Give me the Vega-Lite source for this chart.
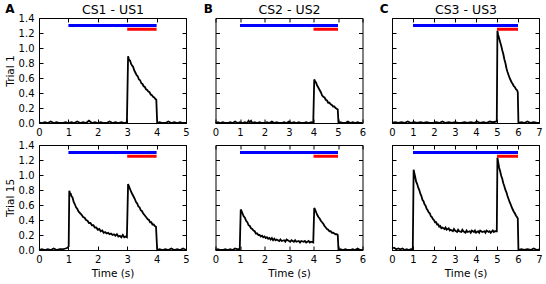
{
"$schema": "https://vega.github.io/schema/vega-lite/v6.json",
"padding": {"left": 4, "top": 1, "right": 2, "bottom": 2},
"datasets": {
"A1": [{"t":0,"v":0.01},{"t":0.1,"v":0.0},{"t":0.2,"v":0.01},{"t":0.3,"v":0.0},{"t":0.4,"v":0.02},{"t":0.5,"v":0.0},{"t":0.6,"v":0.01},{"t":0.7,"v":0.0},{"t":0.8,"v":0.0},{"t":0.9,"v":0.01},{"t":1.0,"v":0.0},{"t":1.1,"v":0.01},{"t":1.2,"v":0.0},{"t":1.3,"v":0.02},{"t":1.4,"v":0.0},{"t":1.5,"v":0.01},{"t":1.6,"v":0.0},{"t":1.7,"v":0.03},{"t":1.8,"v":0.0},{"t":1.9,"v":0.01},{"t":2.0,"v":0.0},{"t":2.1,"v":0.01},{"t":2.2,"v":0.0},{"t":2.3,"v":0.0},{"t":2.4,"v":0.02},{"t":2.5,"v":0.0},{"t":2.6,"v":0.01},{"t":2.7,"v":0.0},{"t":2.8,"v":0.01},{"t":2.9,"v":0.0},{"t":2.99,"v":0.01},{"t":3.03,"v":0.89},{"t":3.05,"v":0.86},{"t":3.07,"v":0.84},{"t":3.1,"v":0.83},{"t":3.13,"v":0.79},{"t":3.16,"v":0.77},{"t":3.2,"v":0.75},{"t":3.24,"v":0.70},{"t":3.28,"v":0.67},{"t":3.32,"v":0.64},{"t":3.36,"v":0.62},{"t":3.4,"v":0.58},{"t":3.44,"v":0.57},{"t":3.48,"v":0.53},{"t":3.52,"v":0.52},{"t":3.56,"v":0.49},{"t":3.6,"v":0.48},{"t":3.64,"v":0.45},{"t":3.68,"v":0.44},{"t":3.72,"v":0.42},{"t":3.76,"v":0.41},{"t":3.8,"v":0.38},{"t":3.84,"v":0.37},{"t":3.88,"v":0.35},{"t":3.92,"v":0.34},{"t":3.96,"v":0.32},{"t":3.99,"v":0.31},{"t":4.02,"v":0.0},{"t":4.1,"v":0.01},{"t":4.2,"v":0.0},{"t":4.3,"v":0.0},{"t":4.4,"v":0.02},{"t":4.5,"v":0.0},{"t":4.6,"v":0.01},{"t":4.7,"v":0.0},{"t":4.8,"v":0.01},{"t":4.9,"v":0.0},{"t":5.0,"v":0.0}],
"A2": [{"t":0,"v":0.0},{"t":0.1,"v":0.01},{"t":0.2,"v":0.0},{"t":0.3,"v":0.01},{"t":0.4,"v":0.0},{"t":0.5,"v":0.02},{"t":0.6,"v":0.0},{"t":0.7,"v":0.01},{"t":0.8,"v":0.01},{"t":0.9,"v":0.02},{"t":0.97,"v":0.03},{"t":1.01,"v":0.05},{"t":1.03,"v":0.79},{"t":1.05,"v":0.76},{"t":1.08,"v":0.75},{"t":1.1,"v":0.72},{"t":1.14,"v":0.70},{"t":1.18,"v":0.64},{"t":1.22,"v":0.61},{"t":1.26,"v":0.57},{"t":1.3,"v":0.55},{"t":1.35,"v":0.51},{"t":1.4,"v":0.49},{"t":1.45,"v":0.47},{"t":1.5,"v":0.44},{"t":1.55,"v":0.43},{"t":1.6,"v":0.40},{"t":1.65,"v":0.39},{"t":1.7,"v":0.36},{"t":1.75,"v":0.36},{"t":1.8,"v":0.33},{"t":1.85,"v":0.33},{"t":1.9,"v":0.30},{"t":1.95,"v":0.30},{"t":2.0,"v":0.27},{"t":2.05,"v":0.28},{"t":2.1,"v":0.25},{"t":2.15,"v":0.26},{"t":2.2,"v":0.23},{"t":2.25,"v":0.24},{"t":2.3,"v":0.22},{"t":2.35,"v":0.23},{"t":2.4,"v":0.21},{"t":2.45,"v":0.22},{"t":2.5,"v":0.20},{"t":2.55,"v":0.21},{"t":2.6,"v":0.19},{"t":2.65,"v":0.21},{"t":2.7,"v":0.18},{"t":2.75,"v":0.19},{"t":2.8,"v":0.17},{"t":2.85,"v":0.20},{"t":2.9,"v":0.17},{"t":2.95,"v":0.18},{"t":2.99,"v":0.17},{"t":3.03,"v":0.88},{"t":3.05,"v":0.86},{"t":3.08,"v":0.83},{"t":3.1,"v":0.81},{"t":3.14,"v":0.77},{"t":3.18,"v":0.74},{"t":3.22,"v":0.71},{"t":3.26,"v":0.68},{"t":3.3,"v":0.64},{"t":3.34,"v":0.62},{"t":3.38,"v":0.58},{"t":3.42,"v":0.57},{"t":3.46,"v":0.53},{"t":3.5,"v":0.52},{"t":3.54,"v":0.49},{"t":3.58,"v":0.47},{"t":3.62,"v":0.45},{"t":3.66,"v":0.43},{"t":3.7,"v":0.41},{"t":3.74,"v":0.40},{"t":3.78,"v":0.37},{"t":3.82,"v":0.37},{"t":3.86,"v":0.34},{"t":3.9,"v":0.34},{"t":3.94,"v":0.32},{"t":3.98,"v":0.31},{"t":4.02,"v":0.0},{"t":4.1,"v":0.01},{"t":4.2,"v":0.0},{"t":4.3,"v":0.01},{"t":4.4,"v":0.0},{"t":4.5,"v":0.02},{"t":4.6,"v":0.0},{"t":4.7,"v":0.01},{"t":4.8,"v":0.0},{"t":4.9,"v":0.02},{"t":5.0,"v":0.0}],
"B1": [{"t":0,"v":0.0},{"t":0.1,"v":0.01},{"t":0.2,"v":0.0},{"t":0.3,"v":0.01},{"t":0.4,"v":0.0},{"t":0.5,"v":0.0},{"t":0.6,"v":0.01},{"t":0.7,"v":0.0},{"t":0.8,"v":0.02},{"t":0.9,"v":0.0},{"t":1.0,"v":0.01},{"t":1.1,"v":0.0},{"t":1.2,"v":0.01},{"t":1.3,"v":0.0},{"t":1.35,"v":0.03},{"t":1.4,"v":0.01},{"t":1.45,"v":0.03},{"t":1.5,"v":0.0},{"t":1.6,"v":0.01},{"t":1.7,"v":0.0},{"t":1.8,"v":0.01},{"t":1.9,"v":0.0},{"t":2.0,"v":0.0},{"t":2.1,"v":0.01},{"t":2.2,"v":0.0},{"t":2.3,"v":0.02},{"t":2.4,"v":0.0},{"t":2.5,"v":0.01},{"t":2.6,"v":0.0},{"t":2.7,"v":0.0},{"t":2.8,"v":0.01},{"t":2.9,"v":0.0},{"t":3.0,"v":0.02},{"t":3.1,"v":0.0},{"t":3.2,"v":0.01},{"t":3.3,"v":0.0},{"t":3.4,"v":0.01},{"t":3.5,"v":0.0},{"t":3.6,"v":0.0},{"t":3.7,"v":0.01},{"t":3.8,"v":0.0},{"t":3.9,"v":0.01},{"t":3.99,"v":0.0},{"t":4.03,"v":0.58},{"t":4.06,"v":0.56},{"t":4.1,"v":0.54},{"t":4.15,"v":0.50},{"t":4.2,"v":0.47},{"t":4.25,"v":0.44},{"t":4.3,"v":0.41},{"t":4.35,"v":0.37},{"t":4.4,"v":0.35},{"t":4.45,"v":0.34},{"t":4.5,"v":0.31},{"t":4.55,"v":0.30},{"t":4.6,"v":0.27},{"t":4.65,"v":0.27},{"t":4.7,"v":0.25},{"t":4.75,"v":0.24},{"t":4.8,"v":0.22},{"t":4.85,"v":0.22},{"t":4.9,"v":0.20},{"t":4.95,"v":0.19},{"t":4.99,"v":0.18},{"t":5.02,"v":0.0},{"t":5.1,"v":0.01},{"t":5.2,"v":0.0},{"t":5.3,"v":0.0},{"t":5.4,"v":0.02},{"t":5.5,"v":0.0},{"t":5.6,"v":0.01},{"t":5.7,"v":0.0},{"t":5.8,"v":0.01},{"t":5.9,"v":0.0},{"t":6.0,"v":0.0}],
"B2": [{"t":0,"v":0.0},{"t":0.1,"v":0.01},{"t":0.2,"v":0.0},{"t":0.3,"v":0.0},{"t":0.4,"v":0.01},{"t":0.5,"v":0.0},{"t":0.6,"v":0.01},{"t":0.7,"v":0.0},{"t":0.8,"v":0.02},{"t":0.9,"v":0.01},{"t":0.99,"v":0.01},{"t":1.03,"v":0.54},{"t":1.06,"v":0.52},{"t":1.1,"v":0.49},{"t":1.15,"v":0.45},{"t":1.2,"v":0.43},{"t":1.25,"v":0.39},{"t":1.3,"v":0.37},{"t":1.35,"v":0.33},{"t":1.4,"v":0.32},{"t":1.45,"v":0.29},{"t":1.5,"v":0.28},{"t":1.55,"v":0.26},{"t":1.6,"v":0.25},{"t":1.65,"v":0.22},{"t":1.7,"v":0.22},{"t":1.75,"v":0.20},{"t":1.8,"v":0.20},{"t":1.85,"v":0.18},{"t":1.9,"v":0.19},{"t":1.95,"v":0.17},{"t":2.0,"v":0.18},{"t":2.05,"v":0.16},{"t":2.1,"v":0.17},{"t":2.15,"v":0.15},{"t":2.2,"v":0.16},{"t":2.25,"v":0.14},{"t":2.3,"v":0.16},{"t":2.35,"v":0.13},{"t":2.4,"v":0.15},{"t":2.45,"v":0.13},{"t":2.5,"v":0.14},{"t":2.6,"v":0.12},{"t":2.65,"v":0.14},{"t":2.7,"v":0.12},{"t":2.8,"v":0.13},{"t":2.85,"v":0.11},{"t":2.9,"v":0.14},{"t":3.0,"v":0.12},{"t":3.05,"v":0.11},{"t":3.1,"v":0.13},{"t":3.2,"v":0.11},{"t":3.25,"v":0.13},{"t":3.3,"v":0.11},{"t":3.4,"v":0.12},{"t":3.45,"v":0.10},{"t":3.5,"v":0.12},{"t":3.6,"v":0.11},{"t":3.65,"v":0.12},{"t":3.7,"v":0.10},{"t":3.8,"v":0.12},{"t":3.85,"v":0.10},{"t":3.9,"v":0.11},{"t":3.99,"v":0.10},{"t":4.03,"v":0.56},{"t":4.06,"v":0.54},{"t":4.1,"v":0.51},{"t":4.15,"v":0.47},{"t":4.2,"v":0.44},{"t":4.25,"v":0.42},{"t":4.3,"v":0.39},{"t":4.35,"v":0.37},{"t":4.4,"v":0.35},{"t":4.45,"v":0.32},{"t":4.5,"v":0.30},{"t":4.55,"v":0.28},{"t":4.6,"v":0.27},{"t":4.65,"v":0.25},{"t":4.7,"v":0.25},{"t":4.75,"v":0.23},{"t":4.8,"v":0.23},{"t":4.85,"v":0.22},{"t":4.9,"v":0.21},{"t":4.95,"v":0.21},{"t":4.99,"v":0.20},{"t":5.02,"v":0.0},{"t":5.1,"v":0.01},{"t":5.2,"v":0.0},{"t":5.3,"v":0.01},{"t":5.4,"v":0.0},{"t":5.5,"v":0.0},{"t":5.6,"v":0.01},{"t":5.7,"v":0.0},{"t":5.8,"v":0.02},{"t":5.9,"v":0.0},{"t":6.0,"v":0.0}],
"C1": [{"t":0,"v":0.0},{"t":0.15,"v":0.01},{"t":0.3,"v":0.0},{"t":0.45,"v":0.01},{"t":0.6,"v":0.0},{"t":0.75,"v":0.02},{"t":0.9,"v":0.0},{"t":1.05,"v":0.01},{"t":1.2,"v":0.0},{"t":1.35,"v":0.01},{"t":1.5,"v":0.0},{"t":1.65,"v":0.01},{"t":1.8,"v":0.0},{"t":1.95,"v":0.0},{"t":2.1,"v":0.01},{"t":2.25,"v":0.0},{"t":2.4,"v":0.02},{"t":2.55,"v":0.0},{"t":2.7,"v":0.01},{"t":2.85,"v":0.0},{"t":3.0,"v":0.01},{"t":3.15,"v":0.0},{"t":3.3,"v":0.0},{"t":3.45,"v":0.01},{"t":3.6,"v":0.0},{"t":3.75,"v":0.01},{"t":3.9,"v":0.0},{"t":4.05,"v":0.02},{"t":4.2,"v":0.0},{"t":4.35,"v":0.01},{"t":4.5,"v":0.0},{"t":4.65,"v":0.02},{"t":4.8,"v":0.01},{"t":4.99,"v":0.02},{"t":5.02,"v":1.23},{"t":5.05,"v":1.18},{"t":5.1,"v":1.13},{"t":5.15,"v":1.08},{"t":5.2,"v":1.03},{"t":5.25,"v":0.97},{"t":5.3,"v":0.92},{"t":5.35,"v":0.85},{"t":5.4,"v":0.80},{"t":5.45,"v":0.73},{"t":5.5,"v":0.68},{"t":5.55,"v":0.64},{"t":5.6,"v":0.60},{"t":5.65,"v":0.57},{"t":5.7,"v":0.54},{"t":5.75,"v":0.52},{"t":5.8,"v":0.49},{"t":5.85,"v":0.48},{"t":5.9,"v":0.45},{"t":5.95,"v":0.44},{"t":5.99,"v":0.41},{"t":6.02,"v":0.0},{"t":6.15,"v":0.01},{"t":6.3,"v":0.0},{"t":6.45,"v":0.02},{"t":6.6,"v":0.0},{"t":6.75,"v":0.01},{"t":6.9,"v":0.0},{"t":7.0,"v":0.0}],
"C2": [{"t":0,"v":0.02},{"t":0.1,"v":0.03},{"t":0.2,"v":0.01},{"t":0.3,"v":0.02},{"t":0.4,"v":0.01},{"t":0.5,"v":0.02},{"t":0.6,"v":0.0},{"t":0.7,"v":0.01},{"t":0.8,"v":0.0},{"t":0.9,"v":0.01},{"t":0.99,"v":0.01},{"t":1.03,"v":1.07},{"t":1.06,"v":1.03},{"t":1.1,"v":0.98},{"t":1.15,"v":0.91},{"t":1.2,"v":0.88},{"t":1.25,"v":0.83},{"t":1.3,"v":0.80},{"t":1.35,"v":0.75},{"t":1.4,"v":0.72},{"t":1.45,"v":0.67},{"t":1.5,"v":0.65},{"t":1.55,"v":0.61},{"t":1.6,"v":0.59},{"t":1.65,"v":0.55},{"t":1.7,"v":0.53},{"t":1.75,"v":0.50},{"t":1.8,"v":0.49},{"t":1.85,"v":0.45},{"t":1.9,"v":0.44},{"t":1.95,"v":0.41},{"t":2.0,"v":0.40},{"t":2.05,"v":0.37},{"t":2.1,"v":0.37},{"t":2.15,"v":0.34},{"t":2.2,"v":0.34},{"t":2.25,"v":0.31},{"t":2.3,"v":0.32},{"t":2.35,"v":0.29},{"t":2.4,"v":0.30},{"t":2.5,"v":0.28},{"t":2.55,"v":0.30},{"t":2.6,"v":0.27},{"t":2.7,"v":0.29},{"t":2.75,"v":0.26},{"t":2.8,"v":0.27},{"t":2.9,"v":0.25},{"t":2.95,"v":0.28},{"t":3.0,"v":0.26},{"t":3.1,"v":0.24},{"t":3.15,"v":0.27},{"t":3.2,"v":0.25},{"t":3.3,"v":0.24},{"t":3.35,"v":0.27},{"t":3.4,"v":0.25},{"t":3.5,"v":0.23},{"t":3.55,"v":0.26},{"t":3.6,"v":0.24},{"t":3.7,"v":0.25},{"t":3.75,"v":0.23},{"t":3.8,"v":0.26},{"t":3.9,"v":0.24},{"t":3.95,"v":0.26},{"t":4.0,"v":0.23},{"t":4.1,"v":0.25},{"t":4.15,"v":0.23},{"t":4.2,"v":0.26},{"t":4.3,"v":0.24},{"t":4.4,"v":0.25},{"t":4.45,"v":0.23},{"t":4.5,"v":0.26},{"t":4.6,"v":0.24},{"t":4.65,"v":0.25},{"t":4.7,"v":0.23},{"t":4.8,"v":0.26},{"t":4.85,"v":0.24},{"t":4.9,"v":0.25},{"t":4.99,"v":0.25},{"t":5.02,"v":1.23},{"t":5.05,"v":1.18},{"t":5.1,"v":1.10},{"t":5.15,"v":1.05},{"t":5.2,"v":0.99},{"t":5.25,"v":0.95},{"t":5.3,"v":0.89},{"t":5.35,"v":0.85},{"t":5.4,"v":0.80},{"t":5.45,"v":0.77},{"t":5.5,"v":0.72},{"t":5.55,"v":0.68},{"t":5.6,"v":0.64},{"t":5.65,"v":0.61},{"t":5.7,"v":0.57},{"t":5.75,"v":0.54},{"t":5.8,"v":0.51},{"t":5.85,"v":0.49},{"t":5.9,"v":0.46},{"t":5.95,"v":0.44},{"t":5.99,"v":0.42},{"t":6.02,"v":0.0},{"t":6.15,"v":0.01},{"t":6.3,"v":0.0},{"t":6.45,"v":0.01},{"t":6.6,"v":0.0},{"t":6.75,"v":0.02},{"t":6.9,"v":0.0},{"t":7.0,"v":0.01}],
"bars": [{"p":"A","stim":"CS","start":1,"end":4,"level":1.3},{"p":"A","stim":"US","start":3,"end":4,"level":1.25},{"p":"B","stim":"CS","start":1,"end":5,"level":1.3},{"p":"B","stim":"US","start":4,"end":5,"level":1.25},{"p":"C","stim":"CS","start":1,"end":6,"level":1.3},{"p":"C","stim":"US","start":5,"end":6,"level":1.25}]
},
"columns": 3,
"bounds": "flush",
"spacing": {"row": 22, "column": 29.5},
"concat": [
{"width":147,"height":105,"layer":[
 {"data":{"name":"A1"},"mark":{"type":"line","color":"black","strokeWidth":1.8},
  "encoding":{"x":{"field":"t","type":"quantitative","scale":{"domain":[0,5],"nice":false},"axis":{"orient":"bottom","values":[0,1,2,3,4,5],"title":null}},
   "y":{"field":"v","type":"quantitative","scale":{"domain":[0,1.4],"nice":false},"axis":{"orient":"left","values":[0,0.2,0.4,0.6,0.8,1.0,1.2,1.4],"format":".1f","title":"Trial 1"}}}},
 {"data":{"name":"bars"},"transform":[{"filter":"datum.p === 'A'"}],"mark":{"type":"rule","strokeWidth":3},
  "encoding":{"x":{"field":"start","type":"quantitative","scale":{"domain":[0,5],"nice":false},"axis":{"orient":"top","values":[0,1,2,3,4,5],"labels":false,"title":"CS1 - US1","titleFontSize":12.5,"titleY":-5,"titleBaseline":"alphabetic"}},
   "x2":{"field":"end"},
   "y":{"field":"level","type":"quantitative","scale":{"domain":[0,1.4],"nice":false},"axis":{"orient":"right","values":[0,0.2,0.4,0.6,0.8,1.0,1.2,1.4],"labels":false,"title":"A","titleAngle":0,"titleX":-172,"titleY":-6,"titleAlign":"right","titleBaseline":"alphabetic","titleFontWeight":"bold","titleFontSize":12}},
   "color":{"field":"stim","type":"nominal","scale":{"domain":["CS","US"],"range":["#0000ff","#ff0000"]},"legend":null}}}
 ],"resolve":{"axis":{"x":"independent","y":"independent"}}},
{"width":147,"height":105,"layer":[
 {"data":{"name":"B1"},"mark":{"type":"line","color":"black","strokeWidth":1.8},
  "encoding":{"x":{"field":"t","type":"quantitative","scale":{"domain":[0,6],"nice":false},"axis":{"orient":"bottom","values":[0,1,2,3,4,5,6],"title":null}},
   "y":{"field":"v","type":"quantitative","scale":{"domain":[0,1.4],"nice":false},"axis":{"orient":"left","values":[0,0.2,0.4,0.6,0.8,1.0,1.2,1.4],"labels":false,"title":null}}}},
 {"data":{"name":"bars"},"transform":[{"filter":"datum.p === 'B'"}],"mark":{"type":"rule","strokeWidth":3},
  "encoding":{"x":{"field":"start","type":"quantitative","scale":{"domain":[0,6],"nice":false},"axis":{"orient":"top","values":[0,1,2,3,4,5,6],"labels":false,"title":"CS2 - US2","titleFontSize":12.5,"titleY":-5,"titleBaseline":"alphabetic"}},
   "x2":{"field":"end"},
   "y":{"field":"level","type":"quantitative","scale":{"domain":[0,1.4],"nice":false},"axis":{"orient":"right","values":[0,0.2,0.4,0.6,0.8,1.0,1.2,1.4],"labels":false,"title":"B","titleAngle":0,"titleX":-150,"titleY":-6,"titleAlign":"right","titleBaseline":"alphabetic","titleFontWeight":"bold","titleFontSize":12}},
   "color":{"field":"stim","type":"nominal","scale":{"domain":["CS","US"],"range":["#0000ff","#ff0000"]},"legend":null}}}
 ],"resolve":{"axis":{"x":"independent","y":"independent"}}},
{"width":147,"height":105,"layer":[
 {"data":{"name":"C1"},"mark":{"type":"line","color":"black","strokeWidth":1.8},
  "encoding":{"x":{"field":"t","type":"quantitative","scale":{"domain":[0,7],"nice":false},"axis":{"orient":"bottom","values":[0,1,2,3,4,5,6,7],"title":null}},
   "y":{"field":"v","type":"quantitative","scale":{"domain":[0,1.4],"nice":false},"axis":{"orient":"left","values":[0,0.2,0.4,0.6,0.8,1.0,1.2,1.4],"labels":false,"title":null}}}},
 {"data":{"name":"bars"},"transform":[{"filter":"datum.p === 'C'"}],"mark":{"type":"rule","strokeWidth":3},
  "encoding":{"x":{"field":"start","type":"quantitative","scale":{"domain":[0,7],"nice":false},"axis":{"orient":"top","values":[0,1,2,3,4,5,6,7],"labels":false,"title":"CS3 - US3","titleFontSize":12.5,"titleY":-5,"titleBaseline":"alphabetic"}},
   "x2":{"field":"end"},
   "y":{"field":"level","type":"quantitative","scale":{"domain":[0,1.4],"nice":false},"axis":{"orient":"right","values":[0,0.2,0.4,0.6,0.8,1.0,1.2,1.4],"labels":false,"title":"C","titleAngle":0,"titleX":-151,"titleY":-6,"titleAlign":"right","titleBaseline":"alphabetic","titleFontWeight":"bold","titleFontSize":12}},
   "color":{"field":"stim","type":"nominal","scale":{"domain":["CS","US"],"range":["#0000ff","#ff0000"]},"legend":null}}}
 ],"resolve":{"axis":{"x":"independent","y":"independent"}}},
{"width":147,"height":105,"layer":[
 {"data":{"name":"A2"},"mark":{"type":"line","color":"black","strokeWidth":1.8},
  "encoding":{"x":{"field":"t","type":"quantitative","scale":{"domain":[0,5],"nice":false},"axis":{"orient":"bottom","values":[0,1,2,3,4,5],"title":"Time (s)"}},
   "y":{"field":"v","type":"quantitative","scale":{"domain":[0,1.4],"nice":false},"axis":{"orient":"left","values":[0,0.2,0.4,0.6,0.8,1.0,1.2,1.4],"format":".1f","title":"Trial 15"}}}},
 {"data":{"name":"bars"},"transform":[{"filter":"datum.p === 'A'"}],"mark":{"type":"rule","strokeWidth":3},
  "encoding":{"x":{"field":"start","type":"quantitative","scale":{"domain":[0,5],"nice":false},"axis":{"orient":"top","values":[0,1,2,3,4,5],"labels":false,"title":null}},
   "x2":{"field":"end"},
   "y":{"field":"level","type":"quantitative","scale":{"domain":[0,1.4],"nice":false},"axis":{"orient":"right","values":[0,0.2,0.4,0.6,0.8,1.0,1.2,1.4],"labels":false,"title":null}},
   "color":{"field":"stim","type":"nominal","scale":{"domain":["CS","US"],"range":["#0000ff","#ff0000"]},"legend":null}}}
 ],"resolve":{"axis":{"x":"independent","y":"independent"}}},
{"width":147,"height":105,"layer":[
 {"data":{"name":"B2"},"mark":{"type":"line","color":"black","strokeWidth":1.8},
  "encoding":{"x":{"field":"t","type":"quantitative","scale":{"domain":[0,6],"nice":false},"axis":{"orient":"bottom","values":[0,1,2,3,4,5,6],"title":"Time (s)"}},
   "y":{"field":"v","type":"quantitative","scale":{"domain":[0,1.4],"nice":false},"axis":{"orient":"left","values":[0,0.2,0.4,0.6,0.8,1.0,1.2,1.4],"labels":false,"title":null}}}},
 {"data":{"name":"bars"},"transform":[{"filter":"datum.p === 'B'"}],"mark":{"type":"rule","strokeWidth":3},
  "encoding":{"x":{"field":"start","type":"quantitative","scale":{"domain":[0,6],"nice":false},"axis":{"orient":"top","values":[0,1,2,3,4,5,6],"labels":false,"title":null}},
   "x2":{"field":"end"},
   "y":{"field":"level","type":"quantitative","scale":{"domain":[0,1.4],"nice":false},"axis":{"orient":"right","values":[0,0.2,0.4,0.6,0.8,1.0,1.2,1.4],"labels":false,"title":null}},
   "color":{"field":"stim","type":"nominal","scale":{"domain":["CS","US"],"range":["#0000ff","#ff0000"]},"legend":null}}}
 ],"resolve":{"axis":{"x":"independent","y":"independent"}}},
{"width":147,"height":105,"layer":[
 {"data":{"name":"C2"},"mark":{"type":"line","color":"black","strokeWidth":1.8},
  "encoding":{"x":{"field":"t","type":"quantitative","scale":{"domain":[0,7],"nice":false},"axis":{"orient":"bottom","values":[0,1,2,3,4,5,6,7],"title":"Time (s)"}},
   "y":{"field":"v","type":"quantitative","scale":{"domain":[0,1.4],"nice":false},"axis":{"orient":"left","values":[0,0.2,0.4,0.6,0.8,1.0,1.2,1.4],"labels":false,"title":null}}}},
 {"data":{"name":"bars"},"transform":[{"filter":"datum.p === 'C'"}],"mark":{"type":"rule","strokeWidth":3},
  "encoding":{"x":{"field":"start","type":"quantitative","scale":{"domain":[0,7],"nice":false},"axis":{"orient":"top","values":[0,1,2,3,4,5,6,7],"labels":false,"title":null}},
   "x2":{"field":"end"},
   "y":{"field":"level","type":"quantitative","scale":{"domain":[0,1.4],"nice":false},"axis":{"orient":"right","values":[0,0.2,0.4,0.6,0.8,1.0,1.2,1.4],"labels":false,"title":null}},
   "color":{"field":"stim","type":"nominal","scale":{"domain":["CS","US"],"range":["#0000ff","#ff0000"]},"legend":null}}}
 ],"resolve":{"axis":{"x":"independent","y":"independent"}}}
],
"config": {
 "font": "DejaVu Sans",
 "background": "white",
 "view": {"stroke": "black", "strokeWidth": 1},
 "axis": {"domain": false, "grid": false, "tickSize": -4, "tickColor": "black", "tickWidth": 1, "labelFontSize": 10, "labelColor": "black", "labelFont": "DejaVu Sans", "labelFlush": false, "labelOverlap": false, "labelBound": false, "titleFont": "DejaVu Sans", "titleFontWeight": "normal", "titleFontSize": 10.5, "titleColor": "black", "minExtent": 0},
 "axisBottom": {"labelPadding": 8, "titlePadding": 4},
 "axisLeft": {"labelPadding": 9, "titlePadding": 3}
}
}
